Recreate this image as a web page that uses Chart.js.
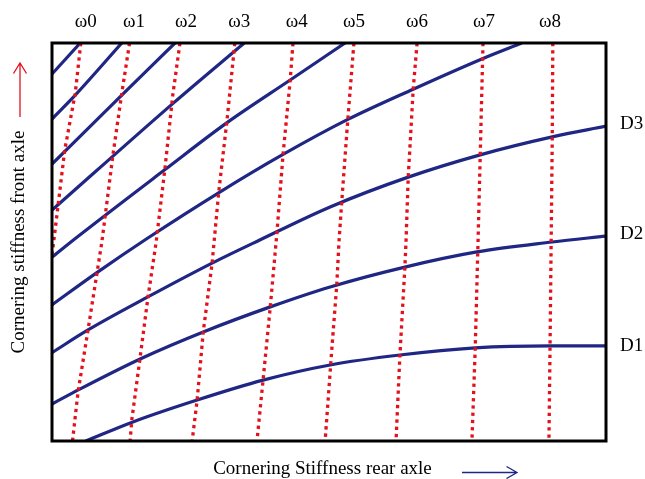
<!DOCTYPE html>
<html><head><meta charset="utf-8">
<script src="https://cdn.jsdelivr.net/npm/chart.js@4.4.0/dist/chart.umd.min.js"></script>
<style>html,body{margin:0;padding:0;background:#fff}canvas{display:block}</style>
</head><body>
<canvas id="c" width="645" height="479"></canvas>
<script>
// ---- tick labels ----
const omegaLabels = ['ω0','ω1','ω2','ω3','ω4','ω5','ω6','ω7','ω8'];
const omegaLabelPos = [6.1, 14.8, 24.2, 33.8, 44.2, 54.5, 65.9, 78.0, 89.9];
const dLabels = ['D1','D2','D3'];
const dLabelPos = [23.9, 52.1, 79.6];
const xTitle = 'Cornering Stiffness rear axle';
const yTitle = 'Cornering stiffness front axle';

// ---- red dotted ω lines: [x, y] ----
const w0 = [[5.2,100],[4.2,87.4],[2.3,73.1],[0.5,52.3],[0,46.7]];
const w1 = [[14.0,100],[12.6,87.4],[11.0,71.9],[9.0,50.0],[6.5,27.9],[4.7,12.3],[3.7,0]];
const w2 = [[23.1,100],[21.8,86.9],[20.4,68.6],[18.8,50.0],[17.3,35.9],[15.9,20.9],[14.4,5.3],[14.1,0]];
const w3 = [[33.0,100],[31.6,80.7],[30.1,62.6],[28.9,44.7],[27.3,27.4],[26.2,10.3],[25.3,0]];
const w4 = [[43.5,100],[43.0,90.7],[41.7,71.9],[40.6,52.3],[39.4,33.7],[38.1,15.3],[37.0,0]];
const w5 = [[54.5,100],[53.4,80.9],[52.3,60.1],[51.8,50.0],[51.4,39.2],[50.5,22.9],[49.3,0]];
const w6 = [[65.9,100],[65.2,88.4],[64.3,66.3],[63.9,50.0],[63.7,43.7],[62.8,21.6],[62.1,0]];
const w7 = [[77.8,100],[77.3,71.9],[76.9,50.0],[76.4,23.4],[75.8,0]];
const w8 = [[90.4,100],[90.3,76.4],[90.1,50.0],[89.9,23.9],[89.7,0]];

// ---- blue constant-D curves: [x, y] ----
const c1 = [[0,92.2],[5.1,100]];
const c2 = [[0,80.9],[4.2,86.9],[12.6,100]];
const c3 = [[0,69.6],[12.6,86.9],[22.2,100]];
const c4 = [[0,58.0],[21.9,84.9],[34.7,100]];
const c5 = [[0,46.2],[4.5,51.2],[20.4,68.2],[31.6,80.0],[43.0,90.7],[52.9,100]];
const c6 = [[0,34.2],[8.1,42.3],[17.3,51.0],[30.0,62.3],[41.7,72.0],[53.4,80.8],[65.2,88.4],[77.6,96.0],[84.8,100]];
const d3 = [[0,22.2],[6.5,27.9],[17.3,36.2],[28.9,44.7],[37.5,50.5],[50.2,58.8],[64.3,66.3],[77.3,71.9],[90.3,76.4],[100,79.1]];
const d2 = [[0,9.3],[5.1,13.1],[16.2,20.8],[27.3,27.4],[39.4,33.7],[50.2,38.7],[63.7,43.7],[76.7,47.5],[90.3,50.0],[100,51.5]];
const d1 = [[6.1,0],[14.6,4.8],[26.2,10.3],[38.1,15.3],[50.2,19.1],[62.8,21.6],[76.4,23.4],[89.9,23.9],[100,23.9]];

const RED = '#e3111b';
const BLUE = '#1f2683';
const FONT = 'Liberation Serif, Times New Roman, serif';

const toPts = arr => arr.map(p => ({x: p[0], y: p[1]}));
const redSets = [w0,w1,w2,w3,w4,w5,w6,w7,w8].map(a => ({
  data: toPts(a), showLine: true, borderColor: RED, borderWidth: 3.3,
  borderDash: [3.3, 3.95], borderCapStyle: 'butt', pointRadius: 0, tension: 0, clip: 0
}));
const blueSets = [c1,c2,c3,c4,c5,c6,d3,d2,d1].map(a => ({
  data: toPts(a), showLine: true, borderColor: BLUE, borderWidth: 3.2,
  pointRadius: 0, cubicInterpolationMode: 'monotone', clip: 0
}));

const decor = {
  id: 'decor',
  afterDatasetsDraw(chart) {
    const {ctx, chartArea: a} = chart;
    ctx.save();
    ctx.strokeStyle = '#000';
    ctx.lineWidth = 3;
    ctx.strokeRect(a.left, a.top, a.right - a.left, a.bottom - a.top);
    // red arrow (front axle, pointing up)
    ctx.lineWidth = 1.3;
    ctx.strokeStyle = RED;
    const ax = a.left - 32;
    ctx.beginPath();
    ctx.moveTo(ax, 117); ctx.lineTo(ax, 63);
    ctx.moveTo(ax - 6.5, 73.5); ctx.lineTo(ax, 63); ctx.lineTo(ax + 6.5, 73.5);
    ctx.stroke();
    // blue arrow (rear axle, pointing right)
    ctx.strokeStyle = BLUE;
    const ay = a.bottom + 31.5;
    ctx.beginPath();
    ctx.moveTo(462, ay); ctx.lineTo(517, ay);
    ctx.moveTo(506.5, ay - 6); ctx.lineTo(517, ay); ctx.lineTo(506.5, ay + 6);
    ctx.stroke();
    ctx.restore();
  }
};

Chart.defaults.color = '#000';
Chart.defaults.font.family = FONT;

new Chart(document.getElementById('c'), {
  type: 'scatter',
  data: { datasets: [...redSets, ...blueSets] },
  options: {
    responsive: false,
    animation: false,
    devicePixelRatio: 1,
    layout: { padding: 0 },
    plugins: {
      legend: { display: false },
      tooltip: { enabled: false },
      title: {
        display: true, position: 'bottom', text: xTitle, color: '#000',
        font: { family: FONT, size: 19, weight: 'normal', lineHeight: 1 },
        padding: { top: 19, bottom: 0 }
      }
    },
    scales: {
      x: {
        type: 'linear', position: 'top', min: 0, max: 100,
        grid: { display: false, drawTicks: false },
        border: { display: false },
        afterBuildTicks: s => { s.ticks = omegaLabelPos.map(v => ({value: v})); },
        afterFit: s => { s.height = 43; },
        ticks: {
          autoSkip: false, maxRotation: 0, padding: 10, color: '#000',
          font: { family: FONT, size: 19 },
          callback: (v, i) => omegaLabels[i]
        }
      },
      y: {
        type: 'linear', position: 'left', min: 0, max: 100,
        grid: { display: false, drawTicks: false },
        border: { display: false },
        ticks: { display: false },
        afterFit: s => { s.width = 52; },
        title: {
          display: true, text: yTitle, color: '#000',
          font: { family: FONT, size: 19 },
          padding: { top: 8, bottom: 0 }
        }
      },
      y2: {
        type: 'linear', position: 'right', min: 0, max: 100,
        grid: { display: false, drawTicks: false },
        border: { display: false },
        afterBuildTicks: s => { s.ticks = dLabelPos.map(v => ({value: v})); },
        afterFit: s => { s.width = 39; },
        ticks: {
          autoSkip: false, padding: 14, color: '#000',
          font: { family: FONT, size: 19 },
          callback: (v, i) => dLabels[i]
        }
      }
    }
  },
  plugins: [decor]
});
</script>
</body></html>
